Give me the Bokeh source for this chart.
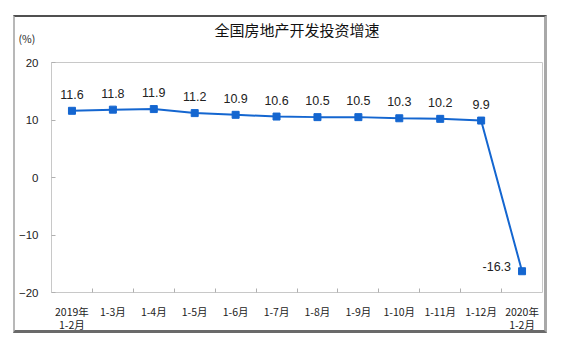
from bokeh.plotting import figure
from bokeh.models import (Range1d, FixedTicker, ColumnDataSource, LabelSet, Label,
                          Title, InlineStyleSheet)
from bokeh.core.properties import value
from bokeh.embed import file_html
from bokeh.resources import INLINE

# ---- data ----
categories = ["2019年\n1-2月", "1-3月", "1-4月", "1-5月", "1-6月", "1-7月",
              "1-8月", "1-9月", "1-10月", "1-11月", "1-12月", "2020年\n1-2月"]
values = [11.6, 11.8, 11.9, 11.2, 10.9, 10.6, 10.5, 10.5, 10.3, 10.2, 9.9, -16.3]
y_ticks = [-20, -10, 0, 10, 20]
title_text = "全国房地产开发投资增速"
unit_text = "(%)"

BLUE = "#1466d0"
CJK = "Noto Sans CJK SC"

n = len(categories)
xs = [i + 0.5 for i in range(n)]
labels_txt = [f"{v:.1f}" for v in values]

src_up = ColumnDataSource(dict(x=xs[:-1], y=values[:-1], t=labels_txt[:-1]))

frame_css = InlineStyleSheet(css="""
:host::after {
  content: '';
  position: absolute;
  left: 13px; top: 15px; width: 534px; height: 318px;
  box-sizing: border-box;
  border-style: solid;
  border-width: 2px 3px 3px 2px;
  border-color: #505050 #a8a8a8 #6a6a6a #b8b8b8;
  pointer-events: none;
}
""")

p = figure(width=564, height=351, output_backend="svg", toolbar_location=None,
           x_range=Range1d(0, n), y_range=Range1d(y_ticks[0], y_ticks[-1]),
           min_border_left=51, min_border_right=22, min_border_top=62, min_border_bottom=59,
           background_fill_color="white", border_fill_color="white",
           stylesheets=[frame_css])
p.outline_line_color = "#c8c8c8"
p.outline_line_width = 1
p.grid.visible = False

# x axis: labels at category centres, small inner ticks between categories
xa = p.xaxis[0]
xa.ticker = FixedTicker(ticks=xs, minor_ticks=list(range(1, n)))
xa.major_label_overrides = {x: c for x, c in zip(xs, categories)}
xa.major_tick_in = 0
xa.major_tick_out = 0
xa.minor_tick_in = 4
xa.minor_tick_out = 0
xa.minor_tick_line_color = "#b0b0b0"
xa.axis_line_color = None
xa.major_label_standoff = 11
xa.major_label_text_font = CJK
xa.major_label_text_font_size = "10.5px"
xa.major_label_text_line_height = 0.9
xa.major_label_text_color = "#222222"

ya = p.yaxis[0]
ya.ticker = FixedTicker(ticks=y_ticks, minor_ticks=[])
ya.major_tick_in = 4
ya.major_tick_out = 0
ya.major_tick_line_color = "#b0b0b0"
ya.axis_line_color = None
ya.major_label_standoff = 13
ya.major_label_text_font = "Liberation Sans"
ya.major_label_text_font_size = "11.5px"
ya.major_label_text_color = "#222222"

p.line(xs, values, line_color=BLUE, line_width=2)
p.scatter(xs, values, marker="square", size=7, fill_color=BLUE, line_color=BLUE)

p.add_layout(LabelSet(x="x", y="y", text="t", source=src_up, y_offset=12,
                      text_align="center", text_baseline="bottom",
                      text_font=value("Liberation Sans"), text_font_size=value("12.5px"),
                      text_color="#222222"))
p.add_layout(Label(x=xs[-1], y=values[-1], text=labels_txt[-1], x_offset=-11, y_offset=0,
                   text_align="right", text_baseline="bottom",
                   text_font="Liberation Sans", text_font_size="12.5px",
                   text_color="#222222"))

# unit (nearest the frame) and main title above it
p.add_layout(Title(text=unit_text, align="left", offset=-33, standoff=34,
                   text_font=CJK, text_font_size="10.5px", text_font_style="normal",
                   text_color="#222222"), "above")
p.add_layout(Title(text=title_text, align="center", standoff=-56,
                   text_font=CJK, text_font_size="15px", text_font_style="normal",
                   text_color="#111111"), "above")

open("out.html", "w").write(file_html(p, INLINE))
